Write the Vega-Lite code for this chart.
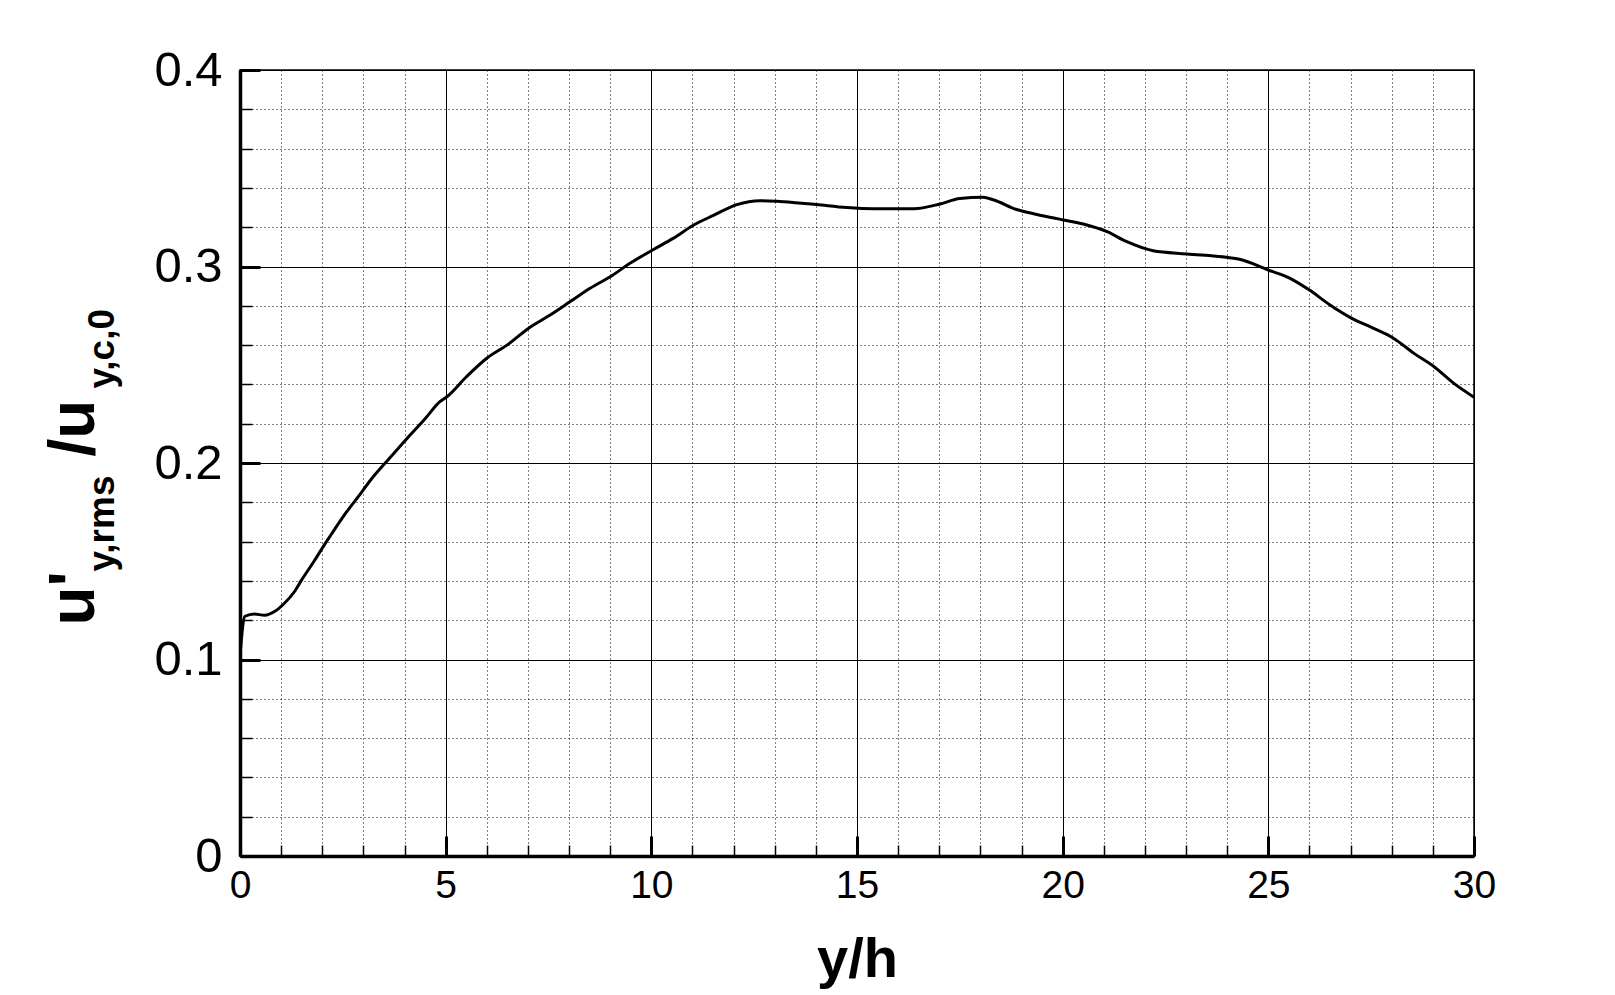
{
  "$schema": "https://vega.github.io/schema/vega-lite/v6.json",
  "autosize": {"type": "none"},
  "padding": {"left": 240, "top": 70, "right": 141, "bottom": 139},
  "width": 1234,
  "height": 786,
  "background": "white",
  "config": {
    "view": {"stroke": "black", "strokeWidth": 1.5},
    "font": "Liberation Sans"
  },
  "data": {
    "values": [
      {"yh": 0, "u": 0.102},
      {"yh": 0.12, "u": 0.122},
      {"yh": 0.35, "u": 0.1232},
      {"yh": 0.6, "u": 0.1225},
      {"yh": 0.85, "u": 0.1245},
      {"yh": 1.05, "u": 0.128},
      {"yh": 1.34, "u": 0.135},
      {"yh": 1.5, "u": 0.1405},
      {"yh": 1.8, "u": 0.15},
      {"yh": 2.07, "u": 0.159},
      {"yh": 2.23, "u": 0.164},
      {"yh": 2.5, "u": 0.1725},
      {"yh": 2.88, "u": 0.183},
      {"yh": 3.2, "u": 0.192},
      {"yh": 3.53, "u": 0.2},
      {"yh": 3.85, "u": 0.2075},
      {"yh": 4.17, "u": 0.215},
      {"yh": 4.5, "u": 0.2225},
      {"yh": 4.86, "u": 0.2312},
      {"yh": 5.03, "u": 0.2337},
      {"yh": 5.51, "u": 0.244},
      {"yh": 6.0, "u": 0.2533},
      {"yh": 6.49, "u": 0.26},
      {"yh": 7.01, "u": 0.2685},
      {"yh": 7.54, "u": 0.2753},
      {"yh": 8.02, "u": 0.282},
      {"yh": 8.51, "u": 0.2889},
      {"yh": 9.04, "u": 0.2953},
      {"yh": 9.48, "u": 0.3016},
      {"yh": 10.03, "u": 0.3084},
      {"yh": 10.53, "u": 0.3143},
      {"yh": 11.02, "u": 0.321},
      {"yh": 11.51, "u": 0.326},
      {"yh": 12.08, "u": 0.3315},
      {"yh": 12.64, "u": 0.3335},
      {"yh": 13.05, "u": 0.3332},
      {"yh": 13.5, "u": 0.3325},
      {"yh": 14.02, "u": 0.3315},
      {"yh": 14.75, "u": 0.33},
      {"yh": 15.4, "u": 0.3294},
      {"yh": 16.38, "u": 0.3294},
      {"yh": 17.02, "u": 0.3318},
      {"yh": 17.5, "u": 0.3346},
      {"yh": 18.07, "u": 0.3352},
      {"yh": 18.31, "u": 0.334},
      {"yh": 18.88, "u": 0.329},
      {"yh": 19.37, "u": 0.3265},
      {"yh": 20.02, "u": 0.3237},
      {"yh": 20.5, "u": 0.3216},
      {"yh": 21.08, "u": 0.3177},
      {"yh": 21.56, "u": 0.3126},
      {"yh": 22.2, "u": 0.308},
      {"yh": 23.02, "u": 0.3064},
      {"yh": 23.98, "u": 0.3047},
      {"yh": 24.3, "u": 0.3037},
      {"yh": 25.0, "u": 0.2982},
      {"yh": 25.53, "u": 0.294},
      {"yh": 26.0, "u": 0.288},
      {"yh": 26.5, "u": 0.2804},
      {"yh": 27.03, "u": 0.2736},
      {"yh": 27.56, "u": 0.2685},
      {"yh": 28.05, "u": 0.2634},
      {"yh": 28.54, "u": 0.2558},
      {"yh": 29.03, "u": 0.249},
      {"yh": 29.51, "u": 0.2405},
      {"yh": 30, "u": 0.2335}
    ]
  },
  "layer": [
    {
      "mark": {"type": "line", "color": "black", "strokeWidth": 3, "interpolate": "monotone", "clip": true},
      "encoding": {
        "x": {
          "field": "yh", "type": "quantitative",
          "scale": {"domain": [0, 30], "nice": false, "zero": false},
          "axis": {
            "values": [0,1,2,3,4,5,6,7,8,9,10,11,12,13,14,15,16,17,18,19,20,21,22,23,24,25,26,27,28,29,30],
            "format": "d",
            "grid": true,
            "gridColor": "black",
            "gridOpacity": 1,
            "gridWidth": 1,
            "gridDash": {"condition": {"test": "datum.value % 5 === 0", "value": []}, "value": [1, 3]},
            "domain": true,
            "domainColor": "black",
            "domainWidth": 3.5,
            "ticks": true,
            "tickColor": "black",
            "tickSize": {"condition": {"test": "datum.value % 5 === 0", "value": -20}, "value": -11},
            "tickWidth": {"condition": {"test": "datum.value % 5 === 0", "value": 3}, "value": 1.5},
            "labelExpr": "datum.value % 5 === 0 ? datum.label : ''",
            "labelFont": "Liberation Sans",
            "labelFontSize": 39,
            "labelColor": "black",
            "labelPadding": 30,
            "labelBaseline": "top",
            "labelFlush": false,
            "labelOverlap": false,
            "labelBound": false,
            "title": "y/h",
            "titleFont": "Liberation Sans",
            "titleFontSize": 56,
            "titleFontWeight": "bold",
            "titleColor": "black",
            "titleAnchor": "middle",
            "titleAlign": "center",
            "titleBaseline": "alphabetic",
            "titleX": 617,
            "titleY": 120
          }
        },
        "y": {
          "field": "u", "type": "quantitative",
          "scale": {"domain": [0, 0.4], "nice": false, "zero": false},
          "axis": {
            "orient": "left",
            "values": [0,0.02,0.04,0.06,0.08,0.1,0.12,0.14,0.16,0.18,0.2,0.22,0.24,0.26,0.28,0.3,0.32,0.34,0.36,0.38,0.4],
            "grid": true,
            "gridColor": "black",
            "gridOpacity": 1,
            "gridWidth": 1,
            "gridDash": {"condition": {"test": "abs(datum.value*10 - round(datum.value*10)) < 1e-6", "value": []}, "value": [1, 3]},
            "domain": true,
            "domainColor": "black",
            "domainWidth": 3.5,
            "ticks": true,
            "tickColor": "black",
            "tickSize": {"condition": {"test": "abs(datum.value*10 - round(datum.value*10)) < 1e-6", "value": -20}, "value": -12},
            "tickWidth": {"condition": {"test": "abs(datum.value*10 - round(datum.value*10)) < 1e-6", "value": 3}, "value": 1.5},
            "labelExpr": "abs(datum.value*10 - round(datum.value*10)) < 1e-6 ? format(datum.value, '.1~f') : ''",
            "labelFont": "Liberation Sans",
            "labelFontSize": 49,
            "labelColor": "black",
            "labelPadding": 38,
            "labelBaseline": "middle",
            "labelFlush": false,
            "labelOverlap": false,
            "labelBound": false,
            "title": "u'",
            "titleFont": "Liberation Sans",
            "titleFontSize": 64,
            "titleFontWeight": "bold",
            "titleColor": "black",
            "titleAngle": -90,
            "titleAlign": "left",
            "titleBaseline": "alphabetic",
            "titleX": -147,
            "titleY": 555
          }
        }
      }
    },
    {
      "mark": {"type": "line", "opacity": 0},
      "encoding": {
        "x": {"field": "yh", "type": "quantitative"},
        "y": {
          "field": "u", "type": "quantitative",
          "axis": {
            "orient": "left",
            "domain": false, "ticks": false, "labels": false, "grid": false,
            "title": "y,rms",
            "titleFont": "Liberation Sans",
            "titleFontSize": 37,
            "titleFontWeight": "bold",
            "titleColor": "black",
            "titleAngle": -90,
            "titleAlign": "left",
            "titleBaseline": "alphabetic",
            "titleX": -127,
            "titleY": 501
          }
        }
      }
    },
    {
      "mark": {"type": "line", "opacity": 0},
      "encoding": {
        "x": {"field": "yh", "type": "quantitative"},
        "y": {
          "field": "u", "type": "quantitative",
          "axis": {
            "orient": "left",
            "domain": false, "ticks": false, "labels": false, "grid": false,
            "title": "/u",
            "titleFont": "Liberation Sans",
            "titleFontSize": 64,
            "titleFontWeight": "bold",
            "titleColor": "black",
            "titleAngle": -90,
            "titleAlign": "left",
            "titleBaseline": "alphabetic",
            "titleX": -147,
            "titleY": 386
          }
        }
      }
    },
    {
      "mark": {"type": "line", "opacity": 0},
      "encoding": {
        "x": {"field": "yh", "type": "quantitative"},
        "y": {
          "field": "u", "type": "quantitative",
          "axis": {
            "orient": "left",
            "domain": false, "ticks": false, "labels": false, "grid": false,
            "title": "y,c,0",
            "titleFont": "Liberation Sans",
            "titleFontSize": 37,
            "titleFontWeight": "bold",
            "titleColor": "black",
            "titleAngle": -90,
            "titleAlign": "left",
            "titleBaseline": "alphabetic",
            "titleX": -127,
            "titleY": 318
          }
        }
      }
    }
  ],
  "resolve": {"axis": {"y": "independent"}}
}
